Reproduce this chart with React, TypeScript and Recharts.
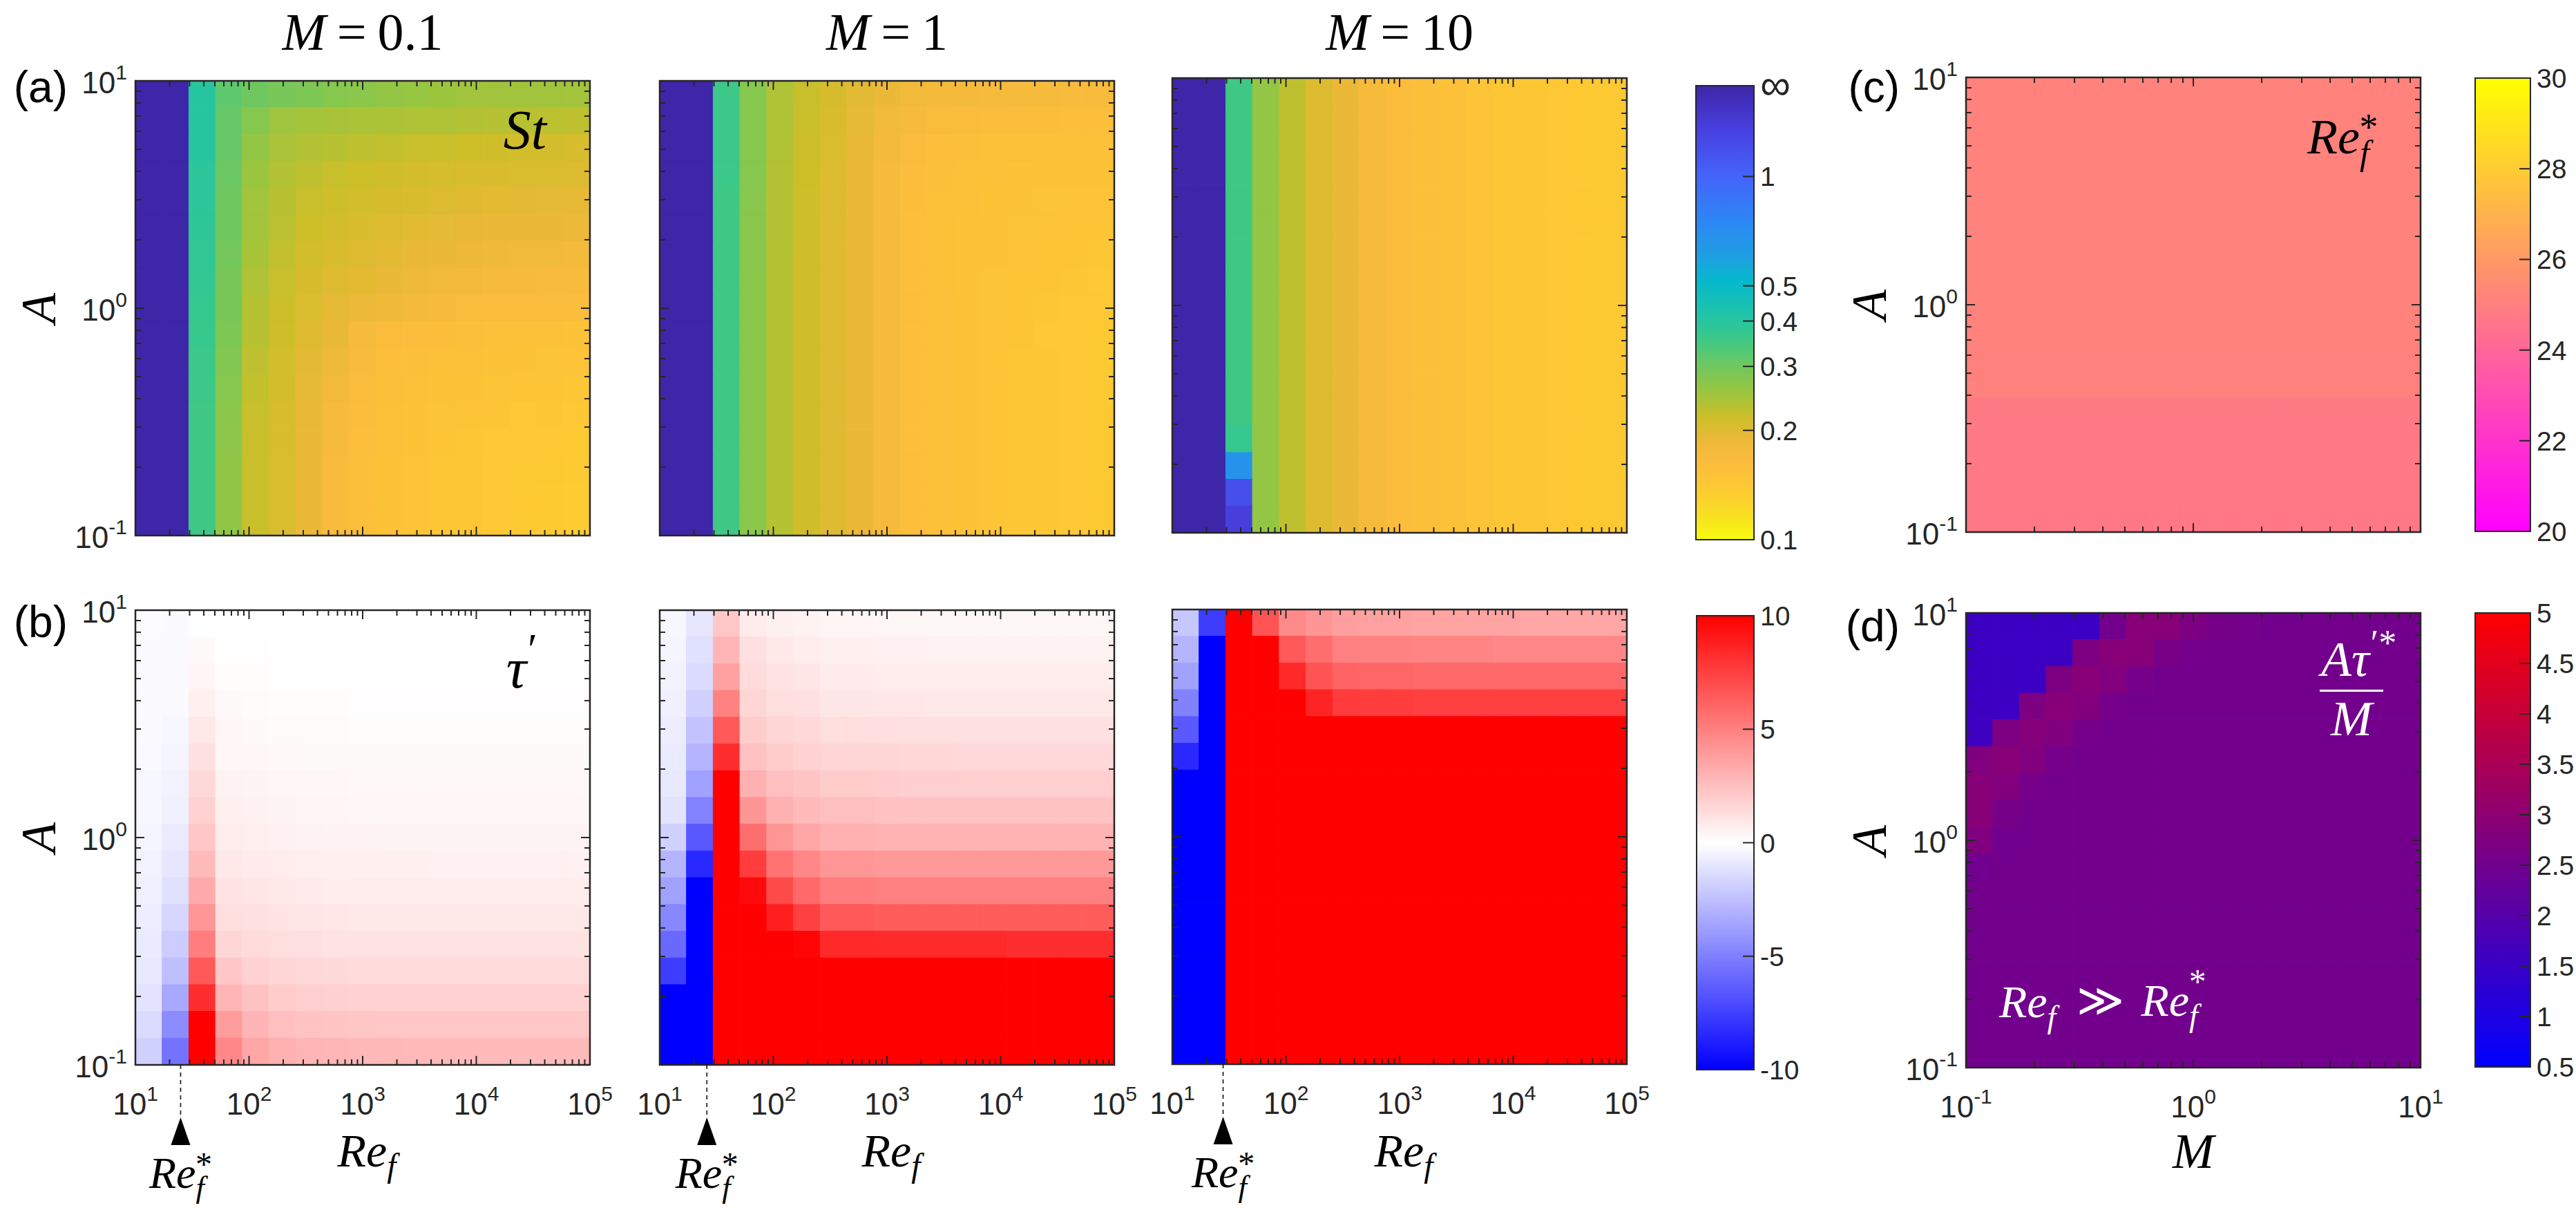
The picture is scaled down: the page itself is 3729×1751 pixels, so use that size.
import { ScatterChart, Scatter, XAxis, YAxis, ReferenceArea } from "recharts";

const I = Infinity;
const AXIS = "#262626";
const SERIF = "'Liberation Serif', 'Times New Roman', serif";
const SANS = "'Liberation Sans', Arial, sans-serif";

// cell edges: 17 log-spaced cells on every axis
const RE_EDGES = [10, 17.19, 29.55, 50.8, 87.34, 150.2, 258.1, 443.7, 762.7, 1311, 2254, 3875, 6662, 11454, 19688, 33843, 58175, 100000];
const A_EDGES = [0.1, 0.1311, 0.1719, 0.2254, 0.2955, 0.3874, 0.5079, 0.6659, 0.8731, 1.145, 1.502, 1.969, 2.581, 3.384, 4.437, 5.818, 7.627, 10];
const M_EDGES = [0.1, 0.1311, 0.1719, 0.2254, 0.2955, 0.3874, 0.5079, 0.6659, 0.8731, 1.145, 1.502, 1.969, 2.581, 3.384, 4.437, 5.818, 7.627, 10];

const RE_MAJOR = [10, 100, 1000, 10000, 100000];
const A_MAJOR = [0.1, 1, 10];
const M_MAJOR = [0.1, 1, 10];

const ST_TICKS = [0.1, 0.2, 0.3, 0.4, 0.5, 1, 1.7783];
const ST_LABELS = ["0.1", "0.2", "0.3", "0.4", "0.5", "1", "∞"];
const TAU_TICKS = [-10, -5, 0, 5, 10];
const RESTAR_TICKS = [20, 22, 24, 26, 28, 30];
const RATIO_TICKS = [0.5, 1, 1.5, 2, 2.5, 3, 3.5, 4, 4.5, 5];

// critical Re_f marked under each tau' panel
const RE_STAR_MARK = [25, 26, 28];

// St, rows listed from A = 10 (top) down to A = 0.1
const ST_M01 = [
  [I, I, 0.4, 0.32, 0.3, 0.29, 0.285, 0.275, 0.27, 0.262, 0.258, 0.254, 0.25, 0.25, 0.25, 0.249, 0.248],
  [I, I, 0.4, 0.31, 0.275, 0.252, 0.246, 0.244, 0.242, 0.241, 0.24, 0.238, 0.236, 0.234, 0.232, 0.23, 0.228],
  [I, I, 0.4, 0.31, 0.262, 0.243, 0.237, 0.232, 0.228, 0.225, 0.222, 0.22, 0.217, 0.214, 0.212, 0.21, 0.207],
  [I, I, 0.39, 0.305, 0.255, 0.237, 0.228, 0.222, 0.217, 0.214, 0.211, 0.209, 0.207, 0.205, 0.204, 0.203, 0.202],
  [I, I, 0.39, 0.3, 0.25, 0.232, 0.222, 0.216, 0.212, 0.208, 0.205, 0.202, 0.199, 0.197, 0.196, 0.194, 0.193],
  [I, I, 0.385, 0.3, 0.25, 0.23, 0.217, 0.21, 0.205, 0.201, 0.198, 0.194, 0.19, 0.188, 0.187, 0.186, 0.185],
  [I, I, 0.38, 0.295, 0.245, 0.225, 0.212, 0.205, 0.2, 0.195, 0.19, 0.186, 0.184, 0.182, 0.179, 0.177, 0.175],
  [I, I, 0.375, 0.29, 0.24, 0.222, 0.208, 0.2, 0.195, 0.189, 0.183, 0.178, 0.175, 0.172, 0.17, 0.169, 0.168],
  [I, I, 0.37, 0.29, 0.235, 0.218, 0.204, 0.193, 0.185, 0.18, 0.175, 0.17, 0.167, 0.165, 0.164, 0.163, 0.162],
  [I, I, 0.365, 0.285, 0.232, 0.215, 0.2, 0.19, 0.172, 0.165, 0.162, 0.159, 0.157, 0.155, 0.154, 0.153, 0.152],
  [I, I, 0.36, 0.28, 0.228, 0.212, 0.196, 0.182, 0.168, 0.16, 0.157, 0.155, 0.153, 0.152, 0.15, 0.149, 0.148],
  [I, I, 0.36, 0.275, 0.225, 0.21, 0.192, 0.176, 0.165, 0.158, 0.155, 0.152, 0.15, 0.149, 0.147, 0.146, 0.145],
  [I, I, 0.355, 0.27, 0.222, 0.207, 0.19, 0.172, 0.162, 0.155, 0.152, 0.149, 0.147, 0.146, 0.144, 0.143, 0.142],
  [I, I, 0.355, 0.268, 0.22, 0.205, 0.188, 0.17, 0.16, 0.153, 0.15, 0.147, 0.145, 0.144, 0.142, 0.141, 0.14],
  [I, I, 0.355, 0.265, 0.22, 0.204, 0.187, 0.168, 0.158, 0.151, 0.148, 0.145, 0.143, 0.142, 0.14, 0.139, 0.138],
  [I, I, 0.355, 0.265, 0.22, 0.204, 0.187, 0.168, 0.158, 0.151, 0.148, 0.145, 0.143, 0.142, 0.14, 0.138, 0.137],
  [I, I, 0.355, 0.265, 0.22, 0.204, 0.187, 0.168, 0.158, 0.151, 0.148, 0.145, 0.143, 0.142, 0.14, 0.138, 0.137],
];

const ST_M1 = [
  [I, I, 0.36, 0.275, 0.24, 0.222, 0.208, 0.196, 0.188, 0.178, 0.175, 0.174, 0.172, 0.17, 0.17, 0.169, 0.168],
  [I, I, 0.36, 0.275, 0.24, 0.22, 0.205, 0.192, 0.178, 0.17, 0.167, 0.165, 0.163, 0.162, 0.161, 0.16, 0.16],
  [I, I, 0.36, 0.275, 0.238, 0.218, 0.203, 0.19, 0.174, 0.165, 0.16, 0.158, 0.156, 0.155, 0.155, 0.154, 0.154],
  [I, I, 0.36, 0.275, 0.237, 0.217, 0.202, 0.188, 0.172, 0.162, 0.157, 0.155, 0.153, 0.152, 0.151, 0.151, 0.15],
  [I, I, 0.355, 0.274, 0.236, 0.216, 0.201, 0.187, 0.171, 0.161, 0.156, 0.153, 0.151, 0.15, 0.149, 0.148, 0.148],
  [I, I, 0.355, 0.273, 0.236, 0.216, 0.2, 0.186, 0.17, 0.16, 0.155, 0.152, 0.15, 0.149, 0.148, 0.147, 0.146],
  [I, I, 0.355, 0.273, 0.235, 0.215, 0.2, 0.186, 0.17, 0.16, 0.155, 0.152, 0.15, 0.148, 0.147, 0.146, 0.145],
  [I, I, 0.355, 0.272, 0.235, 0.215, 0.2, 0.186, 0.17, 0.16, 0.155, 0.152, 0.149, 0.147, 0.146, 0.145, 0.144],
  [I, I, 0.355, 0.272, 0.235, 0.215, 0.2, 0.186, 0.17, 0.16, 0.155, 0.151, 0.149, 0.147, 0.145, 0.144, 0.142],
  [I, I, 0.355, 0.272, 0.235, 0.215, 0.2, 0.186, 0.17, 0.16, 0.154, 0.151, 0.148, 0.146, 0.144, 0.142, 0.14],
  [I, I, 0.355, 0.272, 0.235, 0.215, 0.2, 0.186, 0.17, 0.16, 0.154, 0.15, 0.147, 0.145, 0.143, 0.141, 0.139],
  [I, I, 0.355, 0.272, 0.235, 0.215, 0.2, 0.186, 0.17, 0.16, 0.154, 0.15, 0.147, 0.145, 0.143, 0.141, 0.139],
  [I, I, 0.355, 0.272, 0.235, 0.215, 0.2, 0.186, 0.17, 0.16, 0.154, 0.15, 0.147, 0.145, 0.143, 0.141, 0.139],
  [I, I, 0.355, 0.272, 0.235, 0.215, 0.2, 0.186, 0.17, 0.16, 0.154, 0.15, 0.147, 0.145, 0.143, 0.141, 0.139],
  [I, I, 0.355, 0.272, 0.235, 0.215, 0.2, 0.186, 0.17, 0.16, 0.154, 0.15, 0.147, 0.145, 0.143, 0.141, 0.139],
  [I, I, 0.355, 0.272, 0.235, 0.215, 0.2, 0.186, 0.17, 0.16, 0.154, 0.15, 0.147, 0.145, 0.143, 0.141, 0.139],
  [I, I, 0.355, 0.272, 0.235, 0.215, 0.2, 0.186, 0.17, 0.16, 0.154, 0.15, 0.147, 0.145, 0.143, 0.141, 0.139],
];

const ST_M10 = [
  [I, I, 0.355, 0.262, 0.228, 0.202, 0.188, 0.17, 0.163, 0.157, 0.153, 0.148, 0.145, 0.143, 0.141, 0.14, 0.139],
  [I, I, 0.355, 0.262, 0.228, 0.202, 0.188, 0.17, 0.163, 0.157, 0.153, 0.148, 0.145, 0.143, 0.141, 0.14, 0.139],
  [I, I, 0.355, 0.262, 0.228, 0.202, 0.188, 0.17, 0.163, 0.157, 0.153, 0.148, 0.145, 0.143, 0.141, 0.14, 0.139],
  [I, I, 0.355, 0.262, 0.228, 0.202, 0.188, 0.17, 0.163, 0.157, 0.153, 0.148, 0.145, 0.143, 0.141, 0.14, 0.139],
  [I, I, 0.355, 0.262, 0.228, 0.202, 0.188, 0.17, 0.163, 0.157, 0.153, 0.148, 0.145, 0.143, 0.141, 0.14, 0.139],
  [I, I, 0.355, 0.262, 0.228, 0.202, 0.188, 0.17, 0.163, 0.157, 0.153, 0.148, 0.145, 0.143, 0.141, 0.14, 0.139],
  [I, I, 0.355, 0.262, 0.228, 0.202, 0.188, 0.17, 0.163, 0.157, 0.153, 0.148, 0.145, 0.143, 0.141, 0.14, 0.139],
  [I, I, 0.355, 0.262, 0.228, 0.202, 0.188, 0.17, 0.163, 0.157, 0.153, 0.148, 0.145, 0.143, 0.141, 0.14, 0.139],
  [I, I, 0.355, 0.262, 0.228, 0.202, 0.188, 0.17, 0.163, 0.157, 0.153, 0.148, 0.145, 0.143, 0.141, 0.14, 0.139],
  [I, I, 0.355, 0.262, 0.228, 0.202, 0.188, 0.17, 0.163, 0.157, 0.153, 0.148, 0.145, 0.143, 0.141, 0.14, 0.139],
  [I, I, 0.355, 0.262, 0.228, 0.202, 0.188, 0.17, 0.163, 0.157, 0.153, 0.148, 0.145, 0.143, 0.141, 0.14, 0.139],
  [I, I, 0.355, 0.262, 0.228, 0.202, 0.188, 0.17, 0.163, 0.157, 0.153, 0.148, 0.145, 0.143, 0.141, 0.14, 0.139],
  [I, I, 0.355, 0.262, 0.228, 0.202, 0.188, 0.17, 0.163, 0.157, 0.153, 0.148, 0.145, 0.143, 0.141, 0.14, 0.139],
  [I, I, 0.37, 0.262, 0.228, 0.202, 0.188, 0.17, 0.163, 0.157, 0.153, 0.148, 0.145, 0.143, 0.141, 0.14, 0.139],
  [I, I, 0.67, 0.262, 0.228, 0.202, 0.188, 0.17, 0.163, 0.157, 0.153, 0.148, 0.145, 0.143, 0.141, 0.14, 0.139],
  [I, I, 1.19, 0.262, 0.228, 0.202, 0.188, 0.17, 0.163, 0.157, 0.153, 0.148, 0.145, 0.143, 0.141, 0.14, 0.139],
  [I, I, 1.37, 0.262, 0.228, 0.202, 0.188, 0.17, 0.163, 0.157, 0.153, 0.148, 0.145, 0.143, 0.141, 0.14, 0.139],
];

// tau'
const TAU_M01 = [
  [-0.1, -0.2, 0, 0, 0, 0, 0, 0, 0, 0, 0, 0, 0, 0, 0, 0, 0],
  [-0.15, -0.2, 0.2, 0.05, 0.05, 0, 0, 0, 0, 0, 0, 0, 0, 0, 0, 0, 0],
  [-0.15, -0.2, 0.4, 0.1, 0.1, 0.05, 0.05, 0.05, 0.03, 0.03, 0.03, 0.03, 0.03, 0.03, 0.03, 0.03, 0.03],
  [-0.2, -0.2, 0.6, 0.2, 0.15, 0.1, 0.1, 0.1, 0.08, 0.08, 0.08, 0.08, 0.08, 0.08, 0.08, 0.08, 0.08],
  [-0.2, -0.3, 0.9, 0.3, 0.2, 0.15, 0.15, 0.15, 0.12, 0.12, 0.12, 0.12, 0.12, 0.12, 0.12, 0.12, 0.12],
  [-0.25, -0.4, 1.2, 0.35, 0.35, 0.25, 0.2, 0.2, 0.2, 0.2, 0.2, 0.2, 0.2, 0.2, 0.2, 0.2, 0.2],
  [-0.3, -0.5, 1.5, 0.5, 0.45, 0.35, 0.3, 0.3, 0.28, 0.28, 0.28, 0.28, 0.28, 0.28, 0.28, 0.28, 0.28],
  [-0.3, -0.6, 1.8, 0.6, 0.55, 0.45, 0.4, 0.38, 0.37, 0.36, 0.36, 0.36, 0.36, 0.36, 0.36, 0.36, 0.36],
  [-0.4, -0.8, 2.2, 0.75, 0.65, 0.55, 0.5, 0.47, 0.46, 0.45, 0.45, 0.45, 0.45, 0.45, 0.45, 0.45, 0.45],
  [-0.5, -1, 2.7, 0.9, 0.8, 0.7, 0.62, 0.6, 0.58, 0.57, 0.57, 0.56, 0.56, 0.56, 0.56, 0.56, 0.56],
  [-0.6, -1.2, 3.3, 1.1, 1, 0.85, 0.8, 0.75, 0.72, 0.7, 0.7, 0.7, 0.7, 0.7, 0.7, 0.7, 0.7],
  [-0.7, -1.6, 4.1, 1.3, 1.2, 1.05, 1, 0.95, 0.92, 0.9, 0.9, 0.9, 0.9, 0.9, 0.9, 0.9, 0.9],
  [-0.8, -2, 5.1, 1.6, 1.4, 1.3, 1.2, 1.15, 1.12, 1.1, 1.1, 1.1, 1.1, 1.1, 1.1, 1.1, 1.1],
  [-0.9, -2.5, 6.5, 2.2, 1.8, 1.6, 1.5, 1.45, 1.4, 1.4, 1.4, 1.4, 1.4, 1.4, 1.4, 1.4, 1.4],
  [-1.1, -3.4, 8.2, 2.9, 2.4, 2, 1.9, 1.85, 1.8, 1.8, 1.8, 1.8, 1.8, 1.8, 1.8, 1.8, 1.8],
  [-1.4, -4.5, 10, 3.9, 2.9, 2.5, 2.35, 2.3, 2.25, 2.2, 2.2, 2.2, 2.2, 2.2, 2.2, 2.2, 2.2],
  [-1.8, -5.5, 12, 4.7, 3.5, 3.1, 2.9, 2.85, 2.8, 2.8, 2.75, 2.75, 2.7, 2.7, 2.7, 2.7, 2.7],
];

const TAU_M1 = [
  [-0.3, -1, 2.2, 0.8, 0.6, 0.5, 0.4, 0.4, 0.35, 0.35, 0.3, 0.3, 0.3, 0.3, 0.3, 0.3, 0.3],
  [-0.4, -1.2, 2.9, 1.2, 0.9, 0.75, 0.6, 0.6, 0.55, 0.55, 0.5, 0.5, 0.5, 0.5, 0.5, 0.5, 0.5],
  [-0.5, -1.4, 3.7, 1.4, 1.1, 1, 0.8, 0.8, 0.75, 0.75, 0.7, 0.7, 0.7, 0.7, 0.7, 0.7, 0.7],
  [-0.6, -1.8, 4.9, 1.6, 1.3, 1.2, 1, 1, 0.95, 0.95, 0.9, 0.9, 0.9, 0.9, 0.9, 0.9, 0.9],
  [-0.7, -2.4, 6.5, 2, 1.6, 1.5, 1.3, 1.3, 1.25, 1.2, 1.2, 1.2, 1.2, 1.2, 1.2, 1.2, 1.2],
  [-0.8, -2.9, 8.2, 2.4, 2, 1.8, 1.65, 1.6, 1.6, 1.55, 1.55, 1.5, 1.5, 1.5, 1.5, 1.5, 1.5],
  [-0.9, -3.7, 12, 3.1, 2.5, 2.3, 2, 2, 1.95, 1.9, 1.9, 1.9, 1.9, 1.9, 1.9, 1.9, 1.9],
  [-1.1, -4.9, 12, 4.1, 3.1, 2.7, 2.5, 2.5, 2.45, 2.4, 2.4, 2.4, 2.4, 2.4, 2.4, 2.4, 2.4],
  [-1.8, -6.5, 12, 5.7, 4.1, 3.5, 3.1, 3.1, 3, 3, 3, 3, 3, 3, 3, 3, 3],
  [-2.9, -8.4, 12, 7.6, 5.5, 4.7, 4.1, 4.1, 4, 4, 4, 4, 4, 4, 4, 4, 4],
  [-3.7, -12, 12, 9.6, 7.1, 5.9, 5.1, 5.1, 5, 5, 5, 5, 5, 5, 5, 5, 5],
  [-4.7, -12, 12, 12, 8.8, 7.5, 6.5, 6.5, 6.4, 6.4, 6.4, 6.4, 6.4, 6.4, 6.4, 6.4, 6.4],
  [-5.9, -12, 12, 12, 12, 9.8, 8.4, 8.4, 8.3, 8.3, 8.3, 8.3, 8.3, 8.2, 8.2, 8.2, 8.2],
  [-7.6, -12, 12, 12, 12, 12, 12, 12, 12, 12, 12, 12, 12, 12, 12, 12, 12],
  [-10, -12, 12, 12, 12, 12, 12, 12, 12, 12, 12, 12, 12, 12, 12, 12, 12],
  [-12, -12, 12, 12, 12, 12, 12, 12, 12, 12, 12, 12, 12, 12, 12, 12, 12],
  [-12, -12, 12, 12, 12, 12, 12, 12, 12, 12, 12, 12, 12, 12, 12, 12, 12],
];

const TAU_M10 = [
  [-2.2, -7.6, 12, 6.7, 4.6, 4.1, 3.8, 3.7, 3.7, 3.6, 3.6, 3.6, 3.6, 3.5, 3.5, 3.5, 3.5],
  [-2.9, -12, 12, 10.5, 6.5, 5.7, 5, 4.9, 4.9, 4.8, 4.8, 4.8, 4.7, 4.7, 4.7, 4.7, 4.7],
  [-3.7, -12, 12, 12, 8.4, 6.7, 6.1, 6, 6, 5.9, 5.9, 5.9, 5.9, 5.9, 5.9, 5.9, 5.9],
  [-4.9, -12, 12, 12, 12, 8.6, 7.7, 7.6, 7.6, 7.5, 7.5, 7.5, 7.5, 7.5, 7.5, 7.5, 7.5],
  [-6.5, -12, 12, 12, 12, 12, 12, 12, 12, 12, 12, 12, 12, 12, 12, 12, 12],
  [-8.4, -12, 12, 12, 12, 12, 12, 12, 12, 12, 12, 12, 12, 12, 12, 12, 12],
  [-12, -12, 12, 12, 12, 12, 12, 12, 12, 12, 12, 12, 12, 12, 12, 12, 12],
  [-12, -12, 12, 12, 12, 12, 12, 12, 12, 12, 12, 12, 12, 12, 12, 12, 12],
  [-12, -12, 12, 12, 12, 12, 12, 12, 12, 12, 12, 12, 12, 12, 12, 12, 12],
  [-12, -12, 12, 12, 12, 12, 12, 12, 12, 12, 12, 12, 12, 12, 12, 12, 12],
  [-12, -12, 12, 12, 12, 12, 12, 12, 12, 12, 12, 12, 12, 12, 12, 12, 12],
  [-12, -12, 12, 12, 12, 12, 12, 12, 12, 12, 12, 12, 12, 12, 12, 12, 12],
  [-12, -12, 12, 12, 12, 12, 12, 12, 12, 12, 12, 12, 12, 12, 12, 12, 12],
  [-12, -12, 12, 12, 12, 12, 12, 12, 12, 12, 12, 12, 12, 12, 12, 12, 12],
  [-12, -12, 12, 12, 12, 12, 12, 12, 12, 12, 12, 12, 12, 12, 12, 12, 12],
  [-12, -12, 12, 12, 12, 12, 12, 12, 12, 12, 12, 12, 12, 12, 12, 12, 12],
  [-12, -12, 12, 12, 12, 12, 12, 12, 12, 12, 12, 12, 12, 12, 12, 12, 12],
];

// Re_f* against (M, A): no visible M dependence, one value per A row (top first)
const RE_STAR_ROWS = [25.1, 25.1, 25.1, 25.1, 25.1, 25.1, 25.1, 25.1, 25.1, 25.1, 25.05, 25.05, 24.82, 24.8, 24.78, 24.75, 24.72];

// A tau'* / M against (M, A), top row first
const RATIO = [
  [1.55, 1.55, 1.55, 1.55, 1.55, 2.53, 2.88, 2.88, 2.7, 2.6, 2.56, 2.53, 2.53, 2.53, 2.53, 2.53, 2.53],
  [1.55, 1.55, 1.55, 1.55, 2.7, 2.88, 2.88, 2.62, 2.55, 2.53, 2.53, 2.53, 2.53, 2.53, 2.53, 2.53, 2.53],
  [1.55, 1.55, 1.55, 2.7, 2.88, 2.79, 2.58, 2.53, 2.53, 2.53, 2.53, 2.53, 2.53, 2.53, 2.53, 2.53, 2.53],
  [1.58, 1.58, 2.7, 2.88, 2.82, 2.58, 2.53, 2.53, 2.53, 2.53, 2.53, 2.53, 2.53, 2.53, 2.53, 2.53, 2.53],
  [1.6, 2.7, 2.85, 2.76, 2.58, 2.53, 2.53, 2.53, 2.53, 2.53, 2.53, 2.53, 2.53, 2.53, 2.53, 2.53, 2.53],
  [2.76, 2.88, 2.76, 2.58, 2.53, 2.53, 2.53, 2.53, 2.53, 2.53, 2.53, 2.53, 2.53, 2.53, 2.53, 2.53, 2.53],
  [2.88, 2.79, 2.58, 2.53, 2.53, 2.53, 2.53, 2.53, 2.53, 2.53, 2.53, 2.53, 2.53, 2.53, 2.53, 2.53, 2.53],
  [2.88, 2.6, 2.53, 2.53, 2.53, 2.53, 2.53, 2.53, 2.53, 2.53, 2.53, 2.53, 2.53, 2.53, 2.53, 2.53, 2.53],
  [2.76, 2.5, 2.53, 2.53, 2.53, 2.53, 2.53, 2.53, 2.53, 2.53, 2.53, 2.53, 2.53, 2.53, 2.53, 2.53, 2.53],
  [2.5, 2.53, 2.53, 2.53, 2.53, 2.53, 2.53, 2.53, 2.53, 2.53, 2.53, 2.53, 2.53, 2.53, 2.53, 2.53, 2.53],
  [2.53, 2.53, 2.53, 2.53, 2.53, 2.53, 2.53, 2.53, 2.53, 2.53, 2.53, 2.53, 2.53, 2.53, 2.53, 2.53, 2.53],
  [2.53, 2.53, 2.53, 2.53, 2.53, 2.53, 2.53, 2.53, 2.53, 2.53, 2.53, 2.53, 2.53, 2.53, 2.53, 2.53, 2.53],
  [2.53, 2.53, 2.53, 2.53, 2.53, 2.53, 2.53, 2.53, 2.53, 2.53, 2.53, 2.53, 2.53, 2.53, 2.53, 2.53, 2.53],
  [2.53, 2.53, 2.53, 2.53, 2.53, 2.53, 2.53, 2.53, 2.53, 2.53, 2.53, 2.53, 2.53, 2.53, 2.53, 2.53, 2.53],
  [2.53, 2.53, 2.53, 2.53, 2.53, 2.53, 2.53, 2.53, 2.53, 2.53, 2.53, 2.53, 2.53, 2.53, 2.53, 2.53, 2.53],
  [2.53, 2.53, 2.53, 2.53, 2.53, 2.53, 2.53, 2.53, 2.53, 2.53, 2.53, 2.53, 2.53, 2.53, 2.53, 2.53, 2.53],
  [2.53, 2.53, 2.53, 2.53, 2.53, 2.53, 2.53, 2.53, 2.53, 2.53, 2.53, 2.53, 2.53, 2.53, 2.53, 2.53, 2.53],
];

// parula-like map, position 0 (bottom of the bar) to 1 (top)
const ST_STOPS: [number, number[]][] = [
  [0, [249, 251, 14]], [0.05, [247, 225, 33]], [0.1, [253, 205, 48]], [0.17, [252, 188, 60]],
  [0.22, [235, 185, 55]], [0.27, [205, 190, 40]], [0.33, [150, 198, 65]], [0.39, [105, 200, 100]],
  [0.45, [55, 200, 140]], [0.5, [30, 195, 170]], [0.57, [5, 185, 205]], [0.62, [30, 160, 225]],
  [0.7, [45, 135, 245]], [0.8, [68, 100, 250]], [0.9, [72, 65, 225]], [1, [62, 38, 168]],
];

const clamp = (v: number, a: number, b: number) => Math.max(a, Math.min(b, v));
const rgb = (c: number[]) => `rgb(${c.map((x) => Math.round(x)).join(",")})`;

function fromStops(stops: [number, number[]][], p: number) {
  for (let i = 1; i < stops.length; i++) {
    if (p <= stops[i][0]) {
      const [p0, c0] = stops[i - 1];
      const [p1, c1] = stops[i];
      const t = (p - p0) / (p1 - p0);
      return c0.map((v, k) => v + (c1[k] - v) * t);
    }
  }
  return stops[stops.length - 1][1];
}

const stColor = (v: number) => {
  const p = v === I ? 1 : clamp(Math.log10(v / 0.1) / 1.25, 0, 1);
  return rgb(fromStops(ST_STOPS, p));
};
const tauColor = (v: number) => {
  const t = clamp(v / 10, -1, 1);
  return t >= 0 ? rgb([255, 255 * (1 - t), 255 * (1 - t)]) : rgb([255 * (1 + t), 255 * (1 + t), 255]);
};
const reStarColor = (v: number) => {
  const t = clamp((v - 20) / 10, 0, 1);
  return rgb([255, 255 * t, 255 * (1 - t)]);
};
const ratioColor = (v: number) => {
  const t = clamp((v - 0.5) / 4.5, 0, 1);
  return rgb([255 * t, 0, 255 * (1 - t)]);
};

function withMinor(major: number[]) {
  const out: number[] = [];
  major.forEach((d, i) => {
    out.push(d);
    if (i < major.length - 1) for (let k = 2; k <= 9; k++) out.push(+(k * d).toPrecision(3));
  });
  return out;
}

const isDecade = (v: number) => Math.abs(Math.log10(v) - Math.round(Math.log10(v))) < 1e-6;

const TICK_FONT = 44;

function Pow({ x, y, exp, anchor }: { x: number; y: number; exp: number; anchor: "start" | "middle" | "end" }) {
  return (
    <text x={x} y={y} textAnchor={anchor} fontFamily={SANS} fontSize={TICK_FONT} fill={AXIS}>
      10<tspan dy={-20} fontSize={30}>{exp}</tspan>
    </text>
  );
}

// italic "Re" with subscript f and optional superscript star, one text element
function ReF({ x, y, size, star, anchor = "start", fill = "#000" }: { x: number; y: number; size: number; star?: boolean; anchor?: "start" | "middle"; fill?: string }) {
  return (
    <text x={x} y={y} textAnchor={anchor} fill={fill} fontFamily={SERIF} fontSize={size} fontStyle="italic">
      Re
      <tspan dy={size * 0.22} fontSize={size * 0.7}>f</tspan>
      {star && (
        <tspan dx={-size * 0.2} dy={-size * 0.5} fontSize={size * 0.75} fontStyle="normal">
          *
        </tspan>
      )}
    </text>
  );
}

// Re_f* marker: dashed drop line, arrow head and label under the axis
function StarMark({ x, y }: { x: number; y: number }) {
  return (
    <g>
      <line x1={x} x2={x} y1={y} y2={y + 76} stroke="#111" strokeWidth={1.6} strokeDasharray="6 5" />
      <polygon points={`${x},${y + 76} ${x - 14},${y + 116} ${x + 14},${y + 116}`} fill="#000" />
      <ReF x={x} y={y + 178} size={64} star anchor="middle" />
    </g>
  );
}

function XTick(props: any) {
  const { x, y, payload, plotH, labels, star } = props;
  const v = payload.value as number;
  if (star !== undefined && v === star) return <StarMark x={x} y={y} />;
  const major = isDecade(v);
  const len = major ? 13 : 8;
  return (
    <g>
      <line x1={x} x2={x} y1={y} y2={y - len} stroke={AXIS} strokeWidth={2} />
      <line x1={x} x2={x} y1={y - plotH} y2={y - plotH + len} stroke={AXIS} strokeWidth={2} />
      {labels && major && <Pow x={x} y={y + 72} exp={Math.round(Math.log10(v))} anchor="middle" />}
    </g>
  );
}

function YTick(props: any) {
  const { x, y, payload, plotW, labels } = props;
  const v = payload.value as number;
  const major = isDecade(v);
  const len = major ? 13 : 8;
  return (
    <g>
      <line x1={x} x2={x + len} y1={y} y2={y} stroke={AXIS} strokeWidth={2} />
      <line x1={x + plotW} x2={x + plotW - len} y1={y} y2={y} stroke={AXIS} strokeWidth={2} />
      {labels && major && <Pow x={x - 12} y={y + 18} exp={Math.round(Math.log10(v))} anchor="end" />}
    </g>
  );
}

type PanelProps = {
  left: number;
  top: number;
  xEdges: number[];
  yEdges: number[];
  rows: number[][];
  color: (v: number) => string;
  xMajor: number[];
  yMajor: number[];
  xLabels?: boolean;
  yLabels?: boolean;
  star?: number;
};

const PW = 658;
const PH = 658;

function HeatPanel({ left, top, xEdges, yEdges, rows, color, xMajor, yMajor, xLabels, yLabels, star }: PanelProps) {
  const nRows = rows.length;
  const centers = rows.flatMap((row, r) =>
    row.map((v, i) => ({
      x: Math.sqrt(xEdges[i] * xEdges[i + 1]),
      y: Math.sqrt(yEdges[nRows - 1 - r] * yEdges[nRows - r]),
      v,
    }))
  );
  const xDom = [xEdges[0], xEdges[xEdges.length - 1]];
  const yDom = [yEdges[0], yEdges[yEdges.length - 1]];
  const xTicks = withMinor(xMajor);
  if (star !== undefined) xTicks.push(star);
  // axes are 1px wide so they still get drawn; the chart grows by that much
  return (
    <div style={{ position: "absolute", left: left - 1, top }}>
      <ScatterChart width={PW + 1} height={PH + 1} margin={{ top: 0, right: 0, bottom: 0, left: 0 }}>
        <Scatter data={centers} shape={() => <g />} isAnimationActive={false} />
        {rows.map((row, r) =>
          row.map((v, i) => {
            const j = nRows - 1 - r;
            const c = color(v);
            return (
              <ReferenceArea
                key={`${r}-${i}`}
                x1={xEdges[i]}
                x2={xEdges[i + 1]}
                y1={yEdges[j]}
                y2={yEdges[j + 1]}
                fill={c}
                fillOpacity={1}
                stroke={c}
                strokeWidth={1}
                ifOverflow="visible"
              />
            );
          })
        )}
        <ReferenceArea x1={xDom[0]} x2={xDom[1]} y1={yDom[0]} y2={yDom[1]} fill="none" stroke={AXIS} strokeWidth={2.5} ifOverflow="visible" />
        <XAxis
          type="number"
          dataKey="x"
          scale="log"
          domain={xDom}
          allowDataOverflow
          ticks={xTicks}
          interval={0}
          height={1}
          tickSize={0}
          tickMargin={0}
          tickLine={false}
          axisLine={false}
          tick={(p: any) => <XTick {...p} plotH={PH} labels={xLabels} star={star} />}
        />
        <YAxis
          type="number"
          dataKey="y"
          scale="log"
          domain={yDom}
          allowDataOverflow
          ticks={withMinor(yMajor)}
          interval={0}
          width={1}
          tickSize={0}
          tickMargin={0}
          tickLine={false}
          axisLine={false}
          tick={(p: any) => <YTick {...p} plotW={PW} labels={yLabels} />}
        />
      </ScatterChart>
    </div>
  );
}

type BarProps = {
  left: number;
  top: number;
  w: number;
  h: number;
  domain: number[];
  log?: boolean;
  ticks: number[];
  label: (v: number, i: number) => string;
  gradient: string;
};

function ColorBar({ left, top, w, h, domain, log, ticks, label, gradient }: BarProps) {
  return (
    <div style={{ position: "absolute", left, top }}>
      <ScatterChart width={w + 1} height={h} margin={{ top: 0, right: 0, bottom: 0, left: 0 }}>
        <Scatter data={[{ x: 0.5, y: domain[0] }]} shape={() => <g />} isAnimationActive={false} />
        <ReferenceArea x1={0} x2={1} y1={domain[0]} y2={domain[1]} fill={`url(#${gradient})`} fillOpacity={1} stroke={AXIS} strokeWidth={2} ifOverflow="visible" />
        <XAxis type="number" dataKey="x" domain={[0, 1]} hide />
        <YAxis
          type="number"
          dataKey="y"
          orientation="right"
          scale={log ? "log" : "linear"}
          domain={domain}
          allowDataOverflow
          ticks={ticks}
          interval={0}
          width={1}
          tickSize={0}
          tickMargin={0}
          tickLine={false}
          axisLine={false}
          tick={(p: any) => {
            const v = p.payload.value as number;
            const i = ticks.indexOf(v);
            const end = i === 0 || i === ticks.length - 1;
            const txt = label(v, i);
            return (
              <g>
                {!end && <line x1={p.x - 16} x2={p.x} y1={p.y} y2={p.y} stroke={AXIS} strokeWidth={2} />}
                <text x={p.x + 9} y={p.y + (txt === "∞" ? 20 : 14)} fontFamily={SANS} fontSize={txt === "∞" ? 62 : 39} fill={AXIS}>
                  {txt}
                </text>
              </g>
            );
          }}
        />
      </ScatterChart>
    </div>
  );
}

function Gradients() {
  return (
    <svg width={0} height={0} style={{ position: "absolute" }}>
      <defs>
        <linearGradient id="gSt" x1="0" y1="1" x2="0" y2="0">
          {ST_STOPS.map(([p, c]) => (
            <stop key={p} offset={p} stopColor={rgb(c)} />
          ))}
        </linearGradient>
        <linearGradient id="gTau" x1="0" y1="1" x2="0" y2="0">
          <stop offset={0} stopColor="#0000ff" />
          <stop offset={0.5} stopColor="#ffffff" />
          <stop offset={1} stopColor="#ff0000" />
        </linearGradient>
        <linearGradient id="gRe" x1="0" y1="1" x2="0" y2="0">
          <stop offset={0} stopColor="#ff00ff" />
          <stop offset={1} stopColor="#ffff00" />
        </linearGradient>
        <linearGradient id="gRatio" x1="0" y1="1" x2="0" y2="0">
          <stop offset={0} stopColor="#0000ff" />
          <stop offset={1} stopColor="#ff0000" />
        </linearGradient>
      </defs>
    </svg>
  );
}

const COL_LEFT = [196, 955, 1697];
const RIGHT_LEFT = 2846;

function Labels() {
  const titleX = COL_LEFT.map((l) => l + PW / 2);
  const titles = ["0.1", "1", "10"];
  return (
    <svg width={3729} height={1751} style={{ position: "absolute", left: 0, top: 0, pointerEvents: "none" }}>
      {titles.map((t, k) => (
        <text key={t} x={titleX[k]} y={72} textAnchor="middle" fontFamily={SERIF} fontSize={76} fill="#000">
          <tspan fontStyle="italic">M</tspan>
          <tspan dx={16}>=</tspan>
          <tspan dx={16}>{t}</tspan>
        </text>
      ))}
      {[
        ["(a)", 98, 148],
        ["(b)", 98, 922],
        ["(c)", RIGHT_LEFT - 96, 148],
        ["(d)", RIGHT_LEFT - 96, 928],
      ].map(([s, x, y]) => (
        <text key={s as string} x={x as number} y={y as number} textAnchor="end" fontFamily={SANS} fontSize={64} fill="#000">
          {s}
        </text>
      ))}
      {[
        [COL_LEFT[0] - 116, 117 + PH / 2],
        [COL_LEFT[0] - 116, 883 + PH / 2],
        [RIGHT_LEFT - 116, 112 + PH / 2],
        [RIGHT_LEFT - 116, 887 + PH / 2],
      ].map(([x, y], k) => (
        <text key={k} x={x} y={y} textAnchor="middle" fontFamily={SERIF} fontStyle="italic" fontSize={72} transform={`rotate(-90 ${x} ${y})`} fill="#000">
          A
        </text>
      ))}
      {titleX.map((x, k) => (
        <ReF key={k} x={x + 6} y={1688} size={68} anchor="middle" />
      ))}
      <text x={RIGHT_LEFT + PW / 2} y={1690} textAnchor="middle" fontFamily={SERIF} fontStyle="italic" fontSize={72} fill="#000">
        M
      </text>

      <text x={COL_LEFT[0] + PW - 63} y={215} textAnchor="end" fontFamily={SERIF} fontStyle="italic" fontSize={80} fill="#000">
        St
      </text>
      <text x={COL_LEFT[0] + PW - 76} y={995} textAnchor="end" fontFamily={SERIF} fontStyle="italic" fontSize={82} fill="#000">
        τ<tspan dx={2} dy={-34} fontSize={64} fontStyle="normal">′</tspan>
      </text>
      <ReF x={3340} y={222} size={72} star />

      <g fill="#fff" fontFamily={SERIF}>
        <text x={3360} y={978} fontSize={72} fontStyle="italic">
          Aτ<tspan dx={2} dy={-30} fontSize={52} fontStyle="normal">′*</tspan>
        </text>
        <rect x={3358} y={998} width={92} height={3} />
        <text x={3404} y={1064} textAnchor="middle" fontSize={72} fontStyle="italic">M</text>
      </g>
      <text x={2894} y={1472} fill="#fff" fontFamily={SERIF} fontSize={66} fontStyle="italic">
        Re<tspan dy={15} fontSize={46}>f</tspan>
        <tspan dx={30} dy={-17} fontStyle="normal">≫</tspan>
        <tspan dx={24}>Re</tspan>
        <tspan dy={15} fontSize={46}>f</tspan>
        <tspan dx={-13} dy={-48} fontSize={50} fontStyle="normal">*</tspan>
      </text>
    </svg>
  );
}

export default function App() {
  return (
    <div style={{ position: "absolute", left: 0, top: 0, width: 3729, height: 1751, background: "#fff", overflow: "hidden" }}>
      <style>{`.recharts-surface{overflow:visible}`}</style>
      <Gradients />

      <HeatPanel left={COL_LEFT[0]} top={117} xEdges={RE_EDGES} yEdges={A_EDGES} rows={ST_M01} color={stColor} xMajor={RE_MAJOR} yMajor={A_MAJOR} yLabels />
      <HeatPanel left={COL_LEFT[1]} top={117} xEdges={RE_EDGES} yEdges={A_EDGES} rows={ST_M1} color={stColor} xMajor={RE_MAJOR} yMajor={A_MAJOR} />
      <HeatPanel left={COL_LEFT[2]} top={113} xEdges={RE_EDGES} yEdges={A_EDGES} rows={ST_M10} color={stColor} xMajor={RE_MAJOR} yMajor={A_MAJOR} />

      <HeatPanel left={COL_LEFT[0]} top={883} xEdges={RE_EDGES} yEdges={A_EDGES} rows={TAU_M01} color={tauColor} xMajor={RE_MAJOR} yMajor={A_MAJOR} xLabels yLabels star={RE_STAR_MARK[0]} />
      <HeatPanel left={COL_LEFT[1]} top={883} xEdges={RE_EDGES} yEdges={A_EDGES} rows={TAU_M1} color={tauColor} xMajor={RE_MAJOR} yMajor={A_MAJOR} xLabels star={RE_STAR_MARK[1]} />
      <HeatPanel left={COL_LEFT[2]} top={882} xEdges={RE_EDGES} yEdges={A_EDGES} rows={TAU_M10} color={tauColor} xMajor={RE_MAJOR} yMajor={A_MAJOR} xLabels star={RE_STAR_MARK[2]} />

      <HeatPanel
        left={RIGHT_LEFT}
        top={112}
        xEdges={M_EDGES}
        yEdges={A_EDGES}
        rows={RE_STAR_ROWS.map((v) => M_EDGES.slice(1).map(() => v))}
        color={reStarColor}
        xMajor={M_MAJOR}
        yMajor={A_MAJOR}
        yLabels
      />
      <HeatPanel left={RIGHT_LEFT} top={887} xEdges={M_EDGES} yEdges={A_EDGES} rows={RATIO} color={ratioColor} xMajor={M_MAJOR} yMajor={A_MAJOR} xLabels yLabels />

      <ColorBar left={2455} top={124} w={84} h={657} domain={[0.1, 1.7783]} log ticks={ST_TICKS} label={(_, i) => ST_LABELS[i]} gradient="gSt" />
      <ColorBar left={2456} top={891} w={83} h={657} domain={[-10, 10]} ticks={TAU_TICKS} label={(v) => String(v)} gradient="gTau" />
      <ColorBar left={3583} top={113} w={80} h={656} domain={[20, 30]} ticks={RESTAR_TICKS} label={(v) => String(v)} gradient="gRe" />
      <ColorBar left={3583} top={887} w={80} h={657} domain={[0.5, 5]} ticks={RATIO_TICKS} label={(v) => String(v)} gradient="gRatio" />

      <Labels />
    </div>
  );
}
